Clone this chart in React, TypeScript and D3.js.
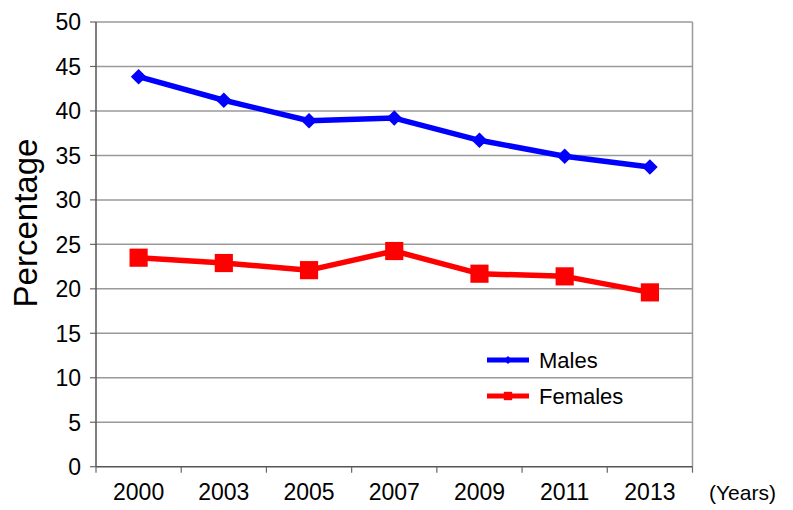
import React from "react";
import * as d3 from "d3";

const years = ["2000", "2003", "2005", "2007", "2009", "2011", "2013"];
const males = [43.85, 41.2, 38.9, 39.2, 36.7, 34.9, 33.7];
const females = [23.5, 22.9, 22.1, 24.25, 21.7, 21.4, 19.6];
const yTicks = [0, 5, 10, 15, 20, 25, 30, 35, 40, 45, 50];

const W = 793;
const H = 510;
const L = 96, R = 692.5, T = 22, B = 466.7;
const FONT = "'Liberation Sans', Arial, Helvetica, sans-serif";

export default function App() {
  const x = d3.scaleBand().domain(years).range([L, R]).padding(0);
  const y = d3.scaleLinear().domain([0, 50]).range([B, T]);
  const cx = (d: string) => (x(d) as number) + x.bandwidth() / 2;
  const line = d3.line<number>().x((_, i) => cx(years[i])).y((v) => y(v));
  const diamond = d3.symbol().type(d3.symbolDiamond2 || d3.symbolDiamond).size(155)();
  const square = d3.symbol().type(d3.symbolSquare).size(330)();
  const smallDiamond = d3.symbol().type(d3.symbolDiamond2 || d3.symbolDiamond).size(40)();
  const smallSquare = d3.symbol().type(d3.symbolSquare).size(70)();
  const boundaries = years.map((d) => x(d) as number).concat([R]);

  return (
    <svg width={W} height={H} style={{ position: "absolute", left: 0, top: 0 }} fontFamily={FONT}>
      <rect x={0} y={0} width={W} height={H} fill="#fff" />
      {yTicks.map((t) => (
        <g key={t}>
          {t > 0 && <line x1={L} x2={R} y1={y(t)} y2={y(t)} stroke="#9a9a9a" strokeWidth={1.5} />}
          <line x1={L - 6} x2={L} y1={y(t)} y2={y(t)} stroke="#666" strokeWidth={1.2} />
          <text x={81} y={y(t)} dy="0.36em" textAnchor="end" fontSize={23} fill="#000">
            {t}
          </text>
        </g>
      ))}
      <line x1={R} x2={R} y1={T} y2={B} stroke="#9a9a9a" strokeWidth={1.5} />
      <line x1={L} x2={L} y1={T} y2={B} stroke="#555" strokeWidth={1.5} />
      <line x1={L} x2={R} y1={B} y2={B} stroke="#555" strokeWidth={1.5} />
      {boundaries.map((bx, i) => (
        <line key={i} x1={bx} x2={bx} y1={B} y2={B + 6} stroke="#666" strokeWidth={1.2} />
      ))}
      {years.map((d) => (
        <text key={d} x={cx(d)} y={500} textAnchor="middle" fontSize={23} fill="#000">
          {d}
        </text>
      ))}
      <text x={709} y={500} fontSize={21} fill="#000">(Years)</text>
      <text
        transform={`translate(37,223) rotate(-90)`}
        textAnchor="middle"
        fontSize={33}
        fill="#000"
      >
        Percentage
      </text>

      <path d={line(males) || ""} fill="none" stroke="#0000ff" strokeWidth={5.5} strokeLinejoin="round" />
      {males.map((v, i) => (
        <path key={i} d={diamond || ""} transform={`translate(${cx(years[i])},${y(v)})`} fill="#0000ff" />
      ))}
      <path d={line(females) || ""} fill="none" stroke="#ff0000" strokeWidth={5.5} strokeLinejoin="round" />
      {females.map((v, i) => (
        <path key={i} d={square || ""} transform={`translate(${cx(years[i])},${y(v)})`} fill="#ff0000" />
      ))}

      <g>
        <line x1={487} x2={529} y1={360} y2={360} stroke="#0000ff" strokeWidth={5} />
        <path d={smallDiamond || ""} transform="translate(508,360)" fill="#0000ff" />
        <text x={539} y={360} dy="0.36em" fontSize={22} fill="#000">Males</text>
        <line x1={487} x2={529} y1={396} y2={396} stroke="#ff0000" strokeWidth={5} />
        <path d={smallSquare || ""} transform="translate(508,396)" fill="#ff0000" />
        <text x={539} y={396} dy="0.36em" fontSize={22} fill="#000">Females</text>
      </g>
    </svg>
  );
}
